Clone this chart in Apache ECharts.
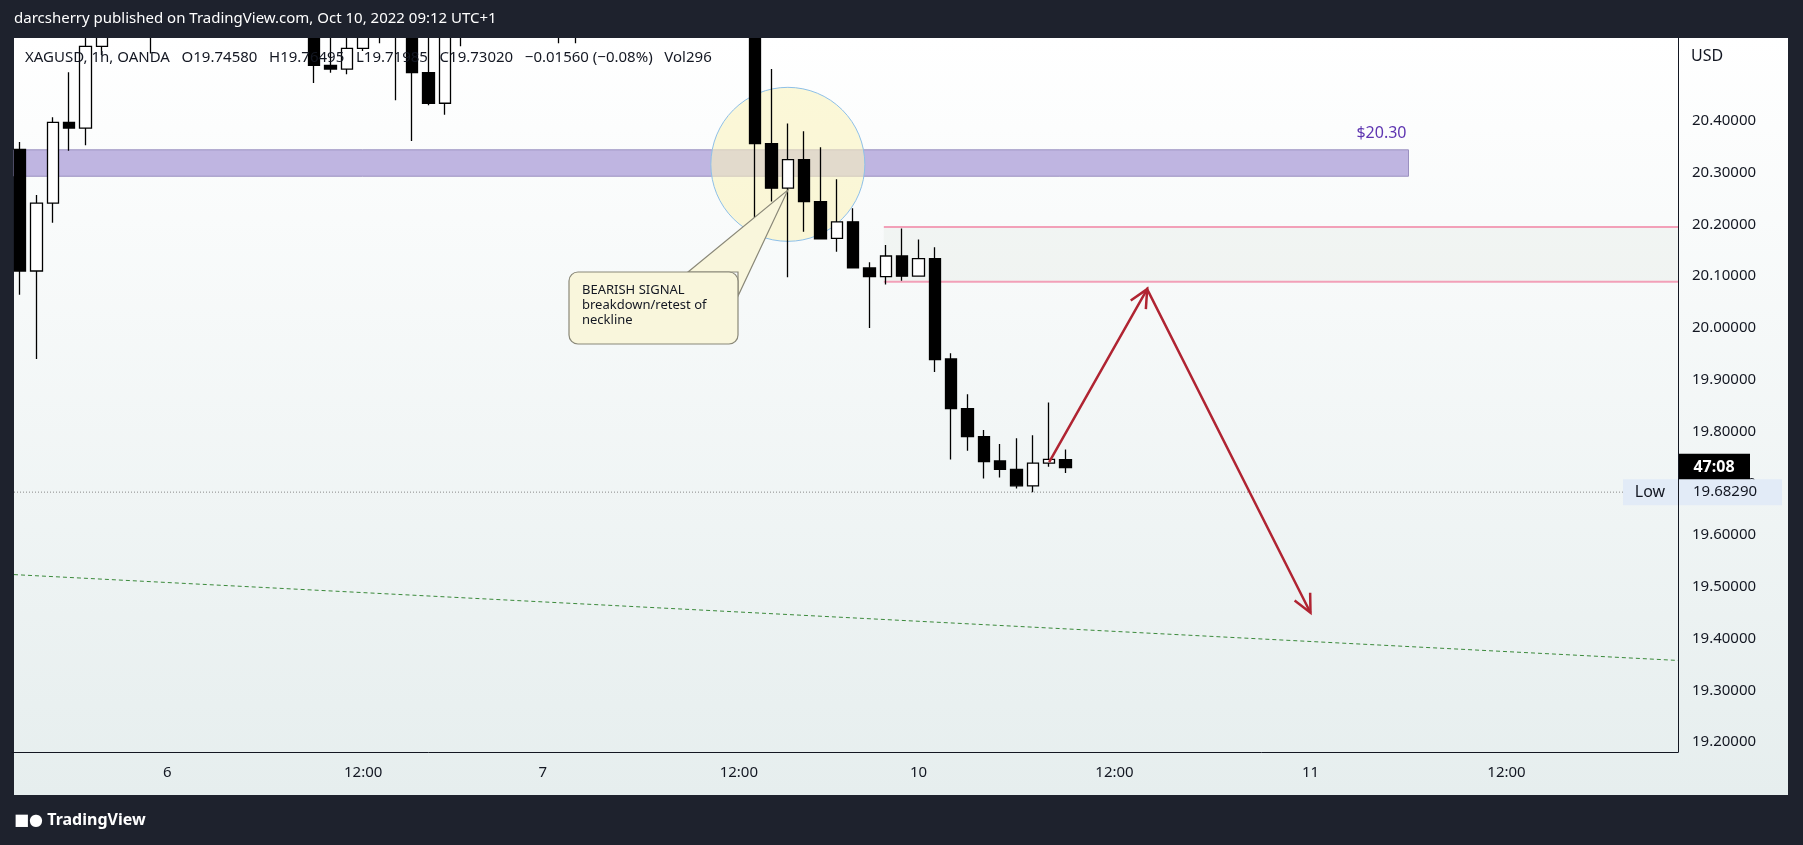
<!DOCTYPE html>
<html><head><meta charset="utf-8">
<script src="https://cdn.jsdelivr.net/npm/echarts@6/dist/echarts.min.js"></script>
<style>html,body{margin:0;padding:0;background:#1e222d;}#c{width:1803px;height:845px;}</style>
</head><body><div id="c"></div>
<script>
// ---- data (O, C, L, H per hourly slot) ----
const opens  = [20.345,20.110,20.241,20.397,20.386,20.544,20.62,20.66,20.64,20.62,20.66,20.70,20.68,20.71,20.69,20.66,20.68,20.65,20.62,20.507,20.50,20.54,20.60,20.62,20.58,20.493,20.434,20.59,20.62,20.64,20.66,20.70,20.68,20.63,20.57,20.60,20.64,20.68,20.72,20.70,20.74,20.76,20.73,20.75,20.72,20.70,20.356,20.270,20.325,20.244,20.173,20.205,20.116,20.099,20.139,20.100,20.134,19.940,19.844,19.790,19.743,19.727,19.695,19.739,19.7458];
const closes = [20.110,20.241,20.397,20.386,20.544,20.62,20.66,20.64,20.62,20.66,20.70,20.68,20.71,20.69,20.66,20.68,20.65,20.62,20.507,20.50,20.54,20.60,20.62,20.58,20.493,20.434,20.59,20.62,20.64,20.66,20.70,20.68,20.63,20.57,20.60,20.64,20.68,20.72,20.70,20.74,20.76,20.73,20.75,20.72,20.70,20.356,20.270,20.325,20.244,20.172,20.205,20.116,20.099,20.139,20.100,20.134,19.939,19.844,19.790,19.742,19.727,19.695,19.739,19.746,19.7302];
const lows   = [20.064,19.940,20.203,20.342,20.353,20.527,20.60,20.61,20.53,20.60,20.64,20.66,20.66,20.67,20.64,20.63,20.62,20.60,20.473,20.493,20.49,20.535,20.55,20.44,20.361,20.43,20.412,20.544,20.56,20.61,20.63,20.65,20.60,20.55,20.55,20.58,20.62,20.66,20.68,20.69,20.72,20.70,20.71,20.70,20.66,20.154,20.244,20.098,20.186,20.171,20.147,20.116,20.000,20.084,20.091,20.099,19.915,19.746,19.763,19.709,19.711,19.690,19.6829,19.732,19.7199];
const highs  = [20.359,20.257,20.407,20.494,20.58,20.65,20.69,20.70,20.67,20.68,20.72,20.73,20.74,20.73,20.71,20.70,20.70,20.67,20.64,20.57,20.58,20.62,20.65,20.64,20.60,20.58,20.61,20.64,20.67,20.69,20.72,20.73,20.70,20.65,20.62,20.66,20.70,20.74,20.76,20.77,20.79,20.78,20.77,20.77,20.74,20.72,20.50,20.395,20.38,20.349,20.287,20.231,20.127,20.160,20.192,20.171,20.156,19.951,19.872,19.803,19.776,19.787,19.793,19.856,19.7650];
const slotCount = 102;
const timeLabels = {9:'6',21:'12:00',32:'7',44:'12:00',55:'10',67:'12:00',79:'11',91:'12:00'};
const priceTicks = [19.2,19.3,19.4,19.5,19.6,19.7,19.8,19.9,20.0,20.1,20.2,20.3,20.4];
const zoneLow = 20.293, zoneHigh = 20.344, zoneLabel = '$20.30';
const rangeHigh = 20.195, rangeLow = 20.089, rangeStart = 53;
const arrowPts = [[62.6,19.741],[68.9,20.075],[79.0,19.45]];
const trendPts = [[-0.4,19.523],[101.5,19.357]];
const lowPrice = 19.6829;
const circleCenter = [46.7,20.316];

const cats = Array.from({length: slotCount}, (_, i) => String(i));
const ohlc = opens.map((o, i) => [o, closes[i], lows[i], highs[i]]);
const FONT = '"Noto Sans", "DejaVu Sans", sans-serif';

const chart = echarts.init(document.getElementById('c'));
chart.setOption({
  backgroundColor: '#1e222d',
  animation: false,
  grid: {left: 12, right: 125, top: 38, bottom: 93},
  xAxis: {
    type: 'category', data: cats, boundaryGap: true,
    axisLine: {show: true, lineStyle: {color: '#131722', width: 1}},
    axisTick: {show: false}, splitLine: {show: false},
    axisLabel: {interval: 0, margin: 13, color: '#131722', fontSize: 15, fontFamily: FONT,
      formatter: (v, i) => timeLabels[i] || ''}
  },
  yAxis: {
    type: 'value', position: 'right', min: 19.181, max: 20.56, scale: true,
    axisLine: {show: true, lineStyle: {color: '#131722', width: 1}},
    axisTick: {show: false}, splitLine: {show: false},
    axisLabel: {customValues: priceTicks, color: '#131722', fontSize: 15, fontFamily: FONT,
      margin: 14, formatter: v => v.toFixed(5)}
  },
  series: [{
    type: 'candlestick', data: ohlc, barWidth: 12, z: 3, clip: true,
    itemStyle: {color: '#ffffff', color0: '#000000', borderColor: '#000000', borderColor0: '#000000', borderWidth: 1.3}
  }]
});

function P(x, y) { return chart.convertToPixel({xAxisIndex: 0, yAxisIndex: 0}, [x, y]); }
const gL = 14, gR = 1678, gT = 38, gB = 752;
const g = [];
g.push({type: 'rect', z: -10, silent: true, shape: {x: 14, y: 38, width: 1774, height: 757},
  style: {fill: new echarts.graphic.LinearGradient(0, 0, 0, 1, [{offset: 0, color: '#ffffff'}, {offset: 1, color: '#e6eeee'}])}});
// top cover bar
g.push({type: 'rect', z: 20, silent: true, shape: {x: 0, y: 0, width: 1803, height: 38}, style: {fill: '#1e222d'}});
// zone
const zt = P(0, zoneHigh)[1], zb = P(0, zoneLow)[1], zr = P(84.9, zoneLow)[0];
g.push({type: 'rect', z: 1, shape: {x: gL, y: zt, width: zr - gL, height: zb - zt},
  style: {fill: 'rgba(176,162,218,0.8)', stroke: '#9a90c0', lineWidth: 1}});
g.push({type: 'text', z: 6, style: {text: zoneLabel, x: zr - 2, y: zt - 8, align: 'right', verticalAlign: 'bottom', fill: '#5e35b1', fontSize: 16, fontFamily: FONT}});
// range
const rx = P(rangeStart, 0)[0] - 2, rh = P(0, rangeHigh)[1], rlw = P(0, rangeLow)[1];
g.push({type: 'rect', z: 1, shape: {x: rx, y: rh, width: gR - rx, height: rlw - rh}, style: {fill: 'rgba(220,228,220,0.25)'}});
g.push({type: 'line', z: 2, shape: {x1: rx, y1: rh, x2: gR, y2: rh}, style: {stroke: '#f2a0b8', lineWidth: 2}});
g.push({type: 'line', z: 2, shape: {x1: rx, y1: rlw, x2: gR, y2: rlw}, style: {stroke: '#f2a0b8', lineWidth: 2}});
// circle (behind candles)
const cc = P(circleCenter[0], circleCenter[1]);
g.push({type: 'circle', z: 1, shape: {cx: cc[0], cy: cc[1], r: 77}, style: {fill: 'rgba(250,244,190,0.6)', stroke: '#8ec0e8', lineWidth: 1}});
// callout
const tip = P(47, 20.27);
g.push({type: 'polygon', z: 4, shape: {points: [[688, 272], [tip[0], tip[1] + 2], [738, 296], [738, 272]]}, style: {fill: '#f9f6dc', stroke: '#8a8878', lineWidth: 1.2}});
g.push({type: 'rect', z: 5, shape: {x: 569, y: 272, width: 169, height: 72, r: 9}, style: {fill: '#f9f6dc', stroke: '#8a8878', lineWidth: 1.2}});
g.push({type: 'rect', z: 5, shape: {x: 680, y: 273.5, width: 40, height: 8}, style: {fill: '#f9f6dc'}});
g.push({type: 'text', z: 6, style: {text: 'BEARISH SIGNAL\nbreakdown/retest of\nneckline', x: 582, y: 283, fill: '#131722', fontSize: 13, lineHeight: 15, fontFamily: FONT}});
// trend line
const t1 = P(trendPts[0][0], trendPts[0][1]), t2 = P(trendPts[1][0], trendPts[1][1]);
const sl = (t2[1] - t1[1]) / (t2[0] - t1[0]);
g.push({type: 'line', z: 2, shape: {x1: gL, y1: t1[1] + (gL - t1[0]) * sl, x2: gR, y2: t1[1] + (gR - t1[0]) * sl}, style: {stroke: '#3b8a3b', lineWidth: 1, lineDash: [4, 3]}});
// low line
const ly = P(0, lowPrice)[1];
g.push({type: 'line', z: 2, shape: {x1: gL, y1: ly, x2: gR, y2: ly}, style: {stroke: '#888', lineWidth: 1, lineDash: [1, 2]}});
// arrows
const a = arrowPts.map(p => P(p[0], p[1]));
function arrowHead(from, to) {
  const ang = Math.atan2(to[1] - from[1], to[0] - from[0]), L = 20, s = 0.45;
  return [[to[0] - L * Math.cos(ang - s), to[1] - L * Math.sin(ang - s)], to, [to[0] - L * Math.cos(ang + s), to[1] - L * Math.sin(ang + s)]];
}
g.push({type: 'polyline', z: 7, shape: {points: a}, style: {stroke: '#b02432', lineWidth: 2.5, fill: null}});
g.push({type: 'polyline', z: 7, shape: {points: arrowHead(a[0], a[1])}, style: {stroke: '#b02432', lineWidth: 2.5, fill: null}});
g.push({type: 'polyline', z: 7, shape: {points: arrowHead(a[1], a[2])}, style: {stroke: '#b02432', lineWidth: 2.5, fill: null}});
// texts
g.push({type: 'text', z: 21, style: {text: 'darcsherry published on TradingView.com, Oct 10, 2022 09:12 UTC+1', x: 14, y: 11, fill: '#ffffff', fontSize: 15, fontFamily: FONT}});
g.push({type: 'text', z: 8, style: {text: 'XAGUSD, 1h, OANDA   O19.74580   H19.76495   L19.71985   C19.73020   \u22120.01560 (\u22120.08%)   Vol296', x: 25, y: 50, fill: '#131722', fontSize: 15, fontFamily: FONT}});
g.push({type: 'text', z: 8, style: {text: 'USD', x: 1691, y: 48, fill: '#131722', fontSize: 16, fontFamily: FONT}});
g.push({type: 'text', z: 8, style: {text: '\u25A0\u25CF TradingView', x: 14, y: 812, fill: '#ffffff', fontSize: 16, fontWeight: 'bold', fontFamily: FONT}});
// right labels
const cy = P(0, 19.7302)[1];
g.push({type: 'rect', z: 9, shape: {x: 1679, y: cy - 14, width: 71, height: 27}, style: {fill: '#000000'}});
g.push({type: 'text', z: 10, style: {text: '47:08', x: 1714, y: cy, align: 'center', verticalAlign: 'middle', fill: '#ffffff', fontSize: 16, fontWeight: 'bold', fontFamily: FONT}});
g.push({type: 'rect', z: 9, shape: {x: 1623, y: ly - 13, width: 55, height: 26}, style: {fill: '#e2ebf7'}});
g.push({type: 'text', z: 10, style: {text: 'Low', x: 1650, y: ly, align: 'center', verticalAlign: 'middle', fill: '#131722', fontSize: 16, fontFamily: FONT}});
g.push({type: 'rect', z: 9, shape: {x: 1679, y: ly - 13, width: 103, height: 26}, style: {fill: '#e2ebf7'}});
g.push({type: 'text', z: 10, style: {text: lowPrice.toFixed(5), x: 1693, y: ly, verticalAlign: 'middle', fill: '#131722', fontSize: 15, fontFamily: FONT}});
chart.setOption({graphic: g});
</script></body></html>
